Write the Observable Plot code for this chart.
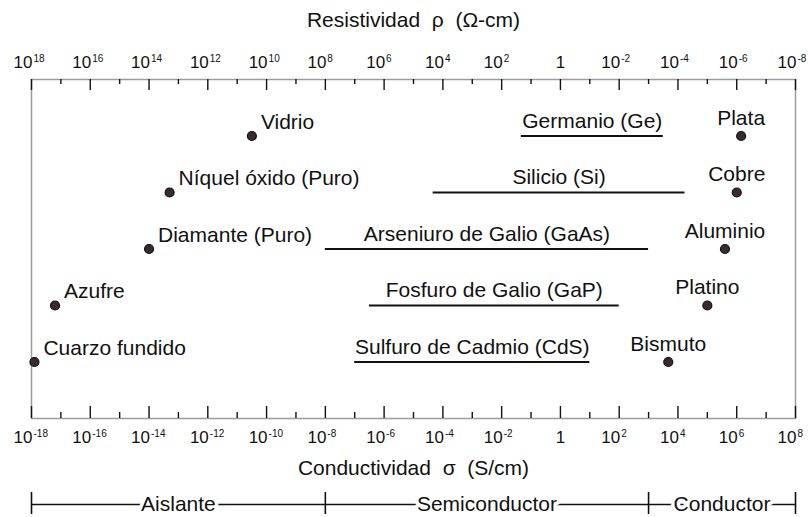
<!DOCTYPE html>
<html>
<head>
<meta charset="utf-8">
<script src="https://cdn.jsdelivr.net/npm/d3@7"></script>
<script src="https://cdn.jsdelivr.net/npm/@observablehq/plot@0.6"></script>
<style>
  html, body { margin: 0; padding: 0; background: #fff; }
</style>
</head>
<body>
<div id="chart"></div>
<script>
// Conductivity (S/cm) of common materials; rows run top to bottom.
const rows = [1, 2, 3, 4, 5];

// Insulators: single values
const insulatorNames = ["Vidrio", "Níquel óxido (Puro)", "Diamante (Puro)", "Azufre", "Cuarzo fundido"];
const insulatorSigma = [10 ** -10.5, 10 ** -13.3, 1e-14, 10 ** -17.2, 10 ** -17.9];

// Semiconductors: conductivity ranges
const semiNames = ["Germanio (Ge)", "Silicio (Si)", "Arseniuro de Galio (GaAs)", "Fosfuro de Galio (GaP)", "Sulfuro de Cadmio (CdS)"];
const semiLow = [10 ** -1.33, 10 ** -4.33, 1e-8, 10 ** -6.5, 1e-7];
const semiHigh = [10 ** 3.5, 10 ** 4.24, 1e3, 1e2, 1e1];

// Metals: single values
const metalNames = ["Plata", "Cobre", "Aluminio", "Platino", "Bismuto"];
const metalSigma = [10 ** 6.15, 1e6, 10 ** 5.6, 1e5, 10 ** 3.67];

// Axis ticks (decade exponents)
const majorExp = [-18, -16, -14, -12, -10, -8, -6, -4, -2, 0, 2, 4, 6, 8];
const minorExp = [-17, -15, -13, -11, -9, -7, -5, -3, -1, 1, 3, 5, 7];

// Material classes along the conductivity axis
const classNames = ["Aislante", "Semiconductor", "Conductor"];
const classBounds = [1e-18, 1e-8, 1e3, 1e8];

const xTitle = "Conductividad\u00a0\u00a0σ\u00a0\u00a0(S/cm)";
const topTitle = "Resistividad\u00a0\u00a0ρ\u00a0\u00a0(Ω-cm)";

const yBottom = rows.length + 1;
const frameH = 517 - 79 - 99;
const ink = "#111";
const dotFill = "#3a2a2d";
const labelSize = 21;

const poweredExp = majorExp.filter(e => e !== 0);
const sup = e => String(e);
const mid = { lineAnchor: "middle", fill: ink };

const chart = Plot.plot({
  width: 809,
  height: 517,
  marginTop: 79,
  marginBottom: 99,
  marginLeft: 31,
  marginRight: 14,
  style: { fontFamily: "'Liberation Sans', Arial, sans-serif", background: "#fff", color: ink },
  x: { type: "log", domain: [1e-18, 1e8], axis: null },
  y: { domain: [yBottom, 0], axis: null },
  marks: [
    Plot.frame({ stroke: "#9c9c9c", strokeWidth: 1.5 }),

    // bottom ticks (conductivity)
    Plot.tickX(majorExp, { x: e => 10 ** e, insetTop: frameH - 12, stroke: ink, strokeWidth: 1.4 }),
    Plot.tickX(minorExp, { x: e => 10 ** e, insetTop: frameH - 6, stroke: ink, strokeWidth: 1.4 }),
    // top ticks (resistivity)
    Plot.tickX(majorExp, { x: e => 10 ** e, insetBottom: frameH - 11, stroke: ink, strokeWidth: 1.4 }),
    Plot.tickX(minorExp, { x: e => 10 ** e, insetBottom: frameH - 5, stroke: ink, strokeWidth: 1.4 }),

    // bottom tick labels: 10^e
    Plot.text(poweredExp, { ...mid, x: e => 10 ** e, text: () => "10", frameAnchor: "bottom", dy: 19, dx: 1, textAnchor: "end", fontSize: 17 }),
    Plot.text(poweredExp, { ...mid, x: e => 10 ** e, text: e => sup(e), frameAnchor: "bottom", dy: 15, dx: 2, textAnchor: "start", fontSize: 10 }),
    Plot.text([0], { ...mid, x: e => 10 ** e, text: () => "1", frameAnchor: "bottom", dy: 19, fontSize: 17 }),

    // top tick labels: resistivity = 1 / conductivity
    Plot.text(poweredExp, { ...mid, x: e => 10 ** e, text: () => "10", frameAnchor: "top", dy: -17, dx: 1, textAnchor: "end", fontSize: 17 }),
    Plot.text(poweredExp, { ...mid, x: e => 10 ** e, text: e => sup(-e), frameAnchor: "top", dy: -21, dx: 2, textAnchor: "start", fontSize: 10 }),
    Plot.text([0], { ...mid, x: e => 10 ** e, text: () => "1", frameAnchor: "top", dy: -17, fontSize: 17 }),

    // axis titles
    Plot.text([topTitle], { ...mid, text: d => d, frameAnchor: "top", dy: -59, fontSize: labelSize }),
    Plot.text([xTitle], { ...mid, text: d => d, frameAnchor: "bottom", dy: 50, fontSize: labelSize }),

    // semiconductor ranges
    Plot.ruleY(rows, { y: d => d, x1: (d, i) => semiLow[i], x2: (d, i) => semiHigh[i], stroke: ink, strokeWidth: 2 }),
    Plot.text(rows, { ...mid, y: d => d, x: (d, i) => Math.sqrt(semiLow[i] * semiHigh[i]), text: (d, i) => semiNames[i], dy: -15, fontSize: labelSize }),

    // insulators
    Plot.dot(rows, { y: d => d, x: (d, i) => insulatorSigma[i], r: 4.5, fill: dotFill, stroke: ink, strokeWidth: 1.2 }),
    Plot.text(rows, { ...mid, y: d => d, x: (d, i) => insulatorSigma[i], text: (d, i) => insulatorNames[i], dx: 9, dy: -14, textAnchor: "start", fontSize: labelSize }),

    // metals
    Plot.dot(rows, { y: d => d, x: (d, i) => metalSigma[i], r: 4.5, fill: dotFill, stroke: ink, strokeWidth: 1.2 }),
    Plot.text(rows, { ...mid, y: d => d, x: (d, i) => metalSigma[i], text: (d, i) => metalNames[i], dy: -18, fontSize: labelSize }),

    // class bracket under the axis
    Plot.ruleY([yBottom], { y: d => d, x1: classBounds[0], x2: classBounds[classBounds.length - 1], dy: 86, stroke: ink, strokeWidth: 1.4 }),
    Plot.ruleX(classBounds, { x: d => d, insetTop: frameH + 74, insetBottom: -96, stroke: ink, strokeWidth: 1.6 }),
    Plot.text(classNames, { ...mid, x: (d, i) => Math.sqrt(classBounds[i] * classBounds[i + 1]), text: d => d, frameAnchor: "bottom", dy: 86, fontSize: labelSize, stroke: "#fff", strokeWidth: 7 })
  ]
});

document.getElementById("chart").appendChild(chart);
</script>
</body>
</html>
